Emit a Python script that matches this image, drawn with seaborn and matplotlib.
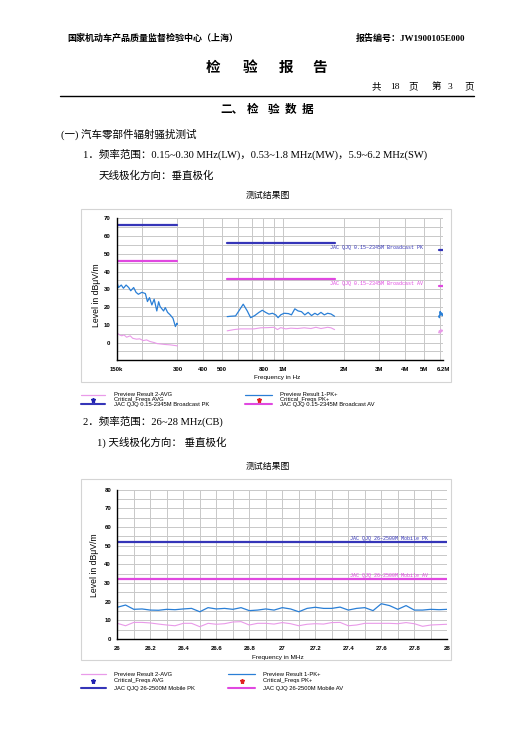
import matplotlib
matplotlib.use("Agg")
import matplotlib.pyplot as plt
import pandas as pd
import seaborn as sns
from matplotlib.patches import Rectangle
from matplotlib.lines import Line2D

# ---------------- data: chart 1 (LW / MW / SW) ----------------
LW_FREQ_KHZ = [150, 153, 158, 162, 167, 172, 176, 182, 187, 192, 200, 208, 213, 218,
               224, 230, 237, 242, 246, 256, 261, 268, 276, 285, 293, 298, 300]
LW_PK = [34.7, 31.0, 32.4, 30.6, 32.4, 31.0, 29.2, 31.0, 28.3, 27.2, 28.3, 27.6, 23.1, 25.3,
         21.2, 24.4, 17.8, 23.0, 20.3, 17.8, 19.7, 17.0, 15.6, 13.7, 9.0, 10.9, 10.3]
LW_AVG_FREQ_KHZ = [150, 155, 159, 163, 168, 175, 180, 188, 195, 203, 211, 219, 230, 238,
                   247, 261, 276, 293, 300]
LW_AVG = [5.6, 4.3, 3.8, 4.3, 3.0, 3.8, 2.4, 1.9, 2.1, 1.1, 1.5, 0.6, 0.0, -0.6,
          -0.8, -1.1, -1.3, -1.7, -1.9]

MW_FREQ_KHZ = [529, 549, 582, 604, 635, 665, 691, 724, 760, 790, 820, 852, 886, 920, 945, 974,
               1012, 1064, 1101, 1144, 1188, 1234, 1282, 1332, 1384, 1438, 1483, 1541, 1601,
               1663, 1728, 1800]
MW_PK = [14.6, 14.8, 15.0, 17.8, 21.6, 17.8, 14.0, 15.2, 17.0, 18.2, 17.0, 16.0, 16.5, 15.6,
         14.0, 15.6, 16.5, 16.3, 15.6, 19.0, 17.8, 17.4, 15.6, 17.0, 15.2, 16.5, 15.6, 17.0,
         15.6, 16.5, 16.1, 14.8]
MW_AVG_FREQ_KHZ = [529, 571, 616, 665, 718, 775, 837, 903, 938, 974, 1032, 1093, 1179, 1273,
                   1374, 1455, 1541, 1663, 1728, 1800]
MW_AVG = [6.6, 7.3, 7.7, 7.7, 7.7, 8.3, 8.4, 8.6, 7.3, 8.4, 7.7, 8.1, 7.9, 8.3, 7.9, 8.6,
          7.9, 8.6, 8.3, 7.3]

SW_FREQ_KHZ = [5900, 5950, 6000, 6050, 6100, 6150, 6200]
SW_PK = [15.0, 14.0, 17.5, 15.5, 16.8, 15.2, 16.2]
SW_AVG = [5.5, 6.8, 5.2, 7.5, 6.0, 7.0, 6.5]

BANDS = ["LW", "MW", "SW"]
BAND_START_KHZ = [150, 530, 5900]
BAND_END_KHZ = [300, 1800, 6200]
BROADCAST_PK_LIMIT = [66, 56, 52]
BROADCAST_AV_LIMIT = [46, 36, 32]

X1_TICKS_HZ = [150e3, 300e3, 400e3, 500e3, 800e3, 1e6, 2e6, 3e6, 4e6, 5e6, 6.2e6]
X1_TICK_LABELS = ["150k", "300", "400", "500", "800", "1M", "2M", "3M", "4M", "5M", "6.2M"]
X1_GRID_HZ = [200e3, 600e3, 700e3, 900e3, 6e6]

# ---------------- data: chart 2 (CB) ----------------
CB_FREQ_MHZ = [26.00, 26.05, 26.10, 26.15, 26.20, 26.25, 26.30, 26.35, 26.40, 26.45,
               26.50, 26.55, 26.60, 26.65, 26.70, 26.75, 26.80, 26.85, 26.90, 26.95,
               27.00, 27.05, 27.10, 27.15, 27.20, 27.25, 27.30, 27.35, 27.40, 27.45,
               27.50, 27.55, 27.60, 27.65, 27.70, 27.75, 27.80, 27.85, 27.90, 27.95, 28.00]
CB_PK = [17.0, 18.2, 15.9, 16.1, 15.5, 15.4, 15.9, 15.7, 16.1, 16.4,
         14.6, 16.8, 16.1, 16.4, 15.9, 16.8, 15.2, 15.5, 16.1, 15.5,
         16.8, 16.1, 14.6, 16.4, 17.0, 16.4, 16.4, 17.1, 15.5, 16.4,
         16.8, 15.2, 18.9, 17.9, 15.9, 17.9, 15.5, 15.5, 15.9, 15.7, 15.9]
CB_AVG = [8.4, 7.1, 8.9, 8.9, 8.6, 8.0, 7.5, 7.1, 8.4, 8.4,
          6.6, 8.4, 7.9, 8.2, 9.1, 9.3, 7.5, 8.4, 8.4, 8.0,
          8.8, 8.2, 7.1, 7.9, 8.2, 8.0, 8.8, 8.9, 7.1, 7.5,
          8.4, 8.4, 8.4, 8.4, 8.2, 8.8, 8.2, 6.8, 7.5, 7.7, 7.9]
CB_RANGE_MHZ = [26.0, 28.0]
MOBILE_PK_LIMIT = 52
MOBILE_AV_LIMIT = 32
X2_TICKS = [26.0, 26.2, 26.4, 26.6, 26.8, 27.0, 27.2, 27.4, 27.6, 27.8, 28.0]
X2_TICK_LABELS = ["26", "26.2", "26.4", "26.6", "26.8", "27", "27.2", "27.4", "27.6", "27.8", "28"]

# ---------------- styling ----------------
C_PK_LIM = "#3535b8"
C_AV_LIM = "#e048e0"
C_PK = "#2a7fd6"
C_AVG = "#e99ae9"
C_GRID = "#c8c8c8"

sns.set_theme(style="white")
plt.rcParams["font.family"] = ["Liberation Serif", "Noto Sans CJK SC", "DejaVu Sans"]
plt.rcParams["text.color"] = "black"

W, H = 527, 744
fig = plt.figure(figsize=(W / 100, H / 100), dpi=100)
fig.patch.set_facecolor("white")


def fx(x):
    return x / W


def fy(y):
    return 1 - y / H


SANS = ["Liberation Sans", "DejaVu Sans"]
CJK = ["Liberation Serif", "Noto Sans CJK SC", "DejaVu Sans"]


def txt(x, y, s, size, ha="left", weight="normal", family=CJK, color="black", rot=0):
    fig.text(fx(x), fy(y), s, fontsize=size, ha=ha, va="center", fontweight=weight,
             family=family, color=color, rotation=rot)


# ---------------- page text ----------------
txt(67, 38, "国家机动车产品质量监督检验中心（上海）", 6.5, weight="bold")
txt(356, 38, "报告编号：JW1900105E000", 6.5, weight="bold")
for ch, x in zip(["检", "验", "报", "告"], [213, 250, 286, 320]):
    txt(x, 68, ch, 10.5, ha="center", weight="bold")
for s, x in zip(["共", "18", "页", "第", "3", "页"], [376, 395, 413, 436, 450, 469]):
    txt(x, 87, s, 6.8, ha="center")
fig.add_artist(Line2D([fx(60), fx(474)], [fy(95.7), fy(95.7)], transform=fig.transFigure,
                      color="black", lw=1.0))
txt(220, 110, "二、", 8.4, weight="bold")
for ch, x in zip(["检", "验", "数", "据"], [252.5, 273.5, 291, 307.5]):
    txt(x, 110, ch, 8.4, ha="center", weight="bold")
txt(61, 134, "(一) 汽车零部件辐射骚扰测试", 7.6)
txt(83, 154.5, "1．频率范围：0.15~0.30 MHz(LW)，0.53~1.8 MHz(MW)，5.9~6.2 MHz(SW)", 7.6)
txt(99, 175.5, "天线极化方向：垂直极化", 7.6)
txt(267.5, 195.5, "测试结果图", 6.4, ha="center")
txt(83, 421.5, "2．频率范围：26~28 MHz(CB)", 7.6)
txt(97, 442.5, "1) 天线极化方向： 垂直极化", 7.6)
txt(267.5, 466.5, "测试结果图", 6.4, ha="center")

# chart frames
for (x0, y0, x1, y1) in [(81, 209, 451, 382), (81, 479, 451, 660)]:
    fig.add_artist(Rectangle((fx(x0), fy(y1)), fx(x1) - fx(x0), fy(y0) - fy(y1),
                             transform=fig.transFigure, fill=False, ec="#d4d4d4", lw=0.8))


def style_axes(ax):
    for side in ["top", "right"]:
        ax.spines[side].set_visible(False)
    for side in ["left", "bottom"]:
        ax.spines[side].set_color("black")
        ax.spines[side].set_linewidth(1.0)
    ax.grid(True, which="both", color=C_GRID, lw=0.7)
    ax.set_axisbelow(True)
    ax.tick_params(which="major", direction="inout", length=4.5, width=1.0, color="black",
                   labelsize=4.3, labelcolor="black")
    ax.tick_params(which="minor", direction="inout", length=3.5, width=0.9, color="black")
    ax.tick_params(axis="x", pad=2.8)
    ax.tick_params(axis="y", pad=2.2)
    for lab in ax.get_xticklabels() + ax.get_yticklabels():
        lab.set_family(SANS)
        lab.set_fontweight("bold")
    ax.set_xlabel("")
    ax.set_ylabel("")


# ---------------- chart 1 ----------------
ax1 = fig.add_axes([fx(116.7), fy(360.3), fx(443) - fx(116.7), fy(218.3) - fy(360.3)])
ax1.set_facecolor("white")

lim_df = pd.DataFrame({
    "band": BANDS * 2,
    "freq": [f * 1e3 for f in BAND_START_KHZ + BAND_END_KHZ],
    "pk": BROADCAST_PK_LIMIT * 2,
    "av": BROADCAST_AV_LIMIT * 2,
})
sns.lineplot(data=lim_df, x="freq", y="pk", units="band", estimator=None, color=C_PK_LIM,
             lw=1.6, ax=ax1, legend=False)
sns.lineplot(data=lim_df, x="freq", y="av", units="band", estimator=None, color=C_AV_LIM,
             lw=1.6, ax=ax1, legend=False)

for fr, vals in [(LW_AVG_FREQ_KHZ, LW_AVG), (MW_AVG_FREQ_KHZ, MW_AVG), (SW_FREQ_KHZ, SW_AVG)]:
    sns.lineplot(x=[f * 1e3 for f in fr], y=vals, color=C_AVG, lw=0.8, ax=ax1,
                 estimator=None, sort=False)
for fr, vals in [(LW_FREQ_KHZ, LW_PK), (MW_FREQ_KHZ, MW_PK), (SW_FREQ_KHZ, SW_PK)]:
    sns.lineplot(x=[f * 1e3 for f in fr], y=vals, color=C_PK, lw=0.9, ax=ax1,
                 estimator=None, sort=False)

ax1.set_xscale("log")
ax1.set_xlim(150e3, 6.2e6)
ax1.set_ylim(-10, 70)
ax1.set_xticks(X1_TICKS_HZ)
ax1.set_xticklabels(X1_TICK_LABELS)
ax1.set_xticks(X1_GRID_HZ, minor=True)
ax1.set_xticklabels([], minor=True)
ax1.set_yticks(list(range(0, 71, 10)))
ax1.set_yticklabels([str(v) for v in range(0, 71, 10)])
ax1.set_yticks(list(range(-5, 70, 10)), minor=True)
style_axes(ax1)
ax1.tick_params(axis="x", which="minor", length=0)

ax1.text(1.71e6, 53.6, "JAC QJQ 0.15~2345M Broadcast PK", fontsize=3.6, color=C_PK_LIM,
         family=["Liberation Mono", "DejaVu Sans Mono"], va="center", ha="left")
ax1.text(1.71e6, 33.5, "JAC QJQ 0.15~2345M Broadcast AV", fontsize=3.6, color=C_AV_LIM,
         family=["Liberation Mono", "DejaVu Sans Mono"], va="center", ha="left")

txt(96.5, 295, "Level in dBμV/m", 6.2, ha="center", family=SANS, rot=90)
txt(277, 378, "Frequency in Hz", 4.6, ha="center", family=SANS)

# ---------------- chart 2 ----------------
ax2 = fig.add_axes([fx(117.3), fy(639), fx(447.3) - fx(117.3), fy(489.7) - fy(639)])
ax2.set_facecolor("white")
sns.lineplot(x=CB_RANGE_MHZ, y=[MOBILE_PK_LIMIT] * 2, color=C_PK_LIM, lw=1.6, ax=ax2,
             estimator=None)
sns.lineplot(x=CB_RANGE_MHZ, y=[MOBILE_AV_LIMIT] * 2, color=C_AV_LIM, lw=1.6, ax=ax2,
             estimator=None)
sns.lineplot(x=CB_FREQ_MHZ, y=CB_AVG, color=C_AVG, lw=0.8, ax=ax2, estimator=None, sort=False)
sns.lineplot(x=CB_FREQ_MHZ, y=CB_PK, color=C_PK, lw=0.9, ax=ax2, estimator=None, sort=False)
ax2.set_xlim(26, 28)
ax2.set_ylim(0, 80)
ax2.set_xticks(X2_TICKS)
ax2.set_xticklabels(X2_TICK_LABELS)
ax2.set_xticks([t + 0.1 for t in X2_TICKS[:-1]], minor=True)
ax2.set_xticklabels([], minor=True)
ax2.set_yticks(list(range(0, 81, 10)))
ax2.set_yticklabels([str(v) for v in range(0, 81, 10)])
ax2.set_yticks(list(range(5, 80, 10)), minor=True)
style_axes(ax2)
ax2.tick_params(axis="x", which="minor", length=2.5)

ax2.text(27.41, 53.7, "JAC QJQ 26~2500M Mobile PK", fontsize=3.6, color=C_PK_LIM,
         family=["Liberation Mono", "DejaVu Sans Mono"], va="center", ha="left")
ax2.text(27.41, 33.8, "JAC QJQ 26~2500M Mobile AV", fontsize=3.6, color=C_AV_LIM,
         family=["Liberation Mono", "DejaVu Sans Mono"], va="center", ha="left")

txt(94.5, 565, "Level in dBμV/m", 6.2, ha="center", family=SANS, rot=90)
txt(278, 657, "Frequency in MHz", 4.6, ha="center", family=SANS)


# ---------------- legends (drawn manually) ----------------
def legend_block(rows_y, left, right, labels_left, labels_right):
    (lx0, lx1, ltx), (rx0, rx1, rtx) = left, right
    kinds_left = [("line", C_AVG, 0.9), ("star", "#2020b0", 0), ("line", C_PK_LIM, 1.5)]
    kinds_right = [("line", C_PK, 0.9), ("star", "#e02020", 0), ("line", C_AV_LIM, 1.5)]
    for (x0, x1, tx, kinds, labels) in [(lx0, lx1, ltx, kinds_left, labels_left),
                                         (rx0, rx1, rtx, kinds_right, labels_right)]:
        for y, (kind, col, lw), lab in zip(rows_y, kinds, labels):
            if kind == "line":
                fig.add_artist(Line2D([fx(x0), fx(x1)], [fy(y), fy(y)],
                                      transform=fig.transFigure, color=col, lw=lw))
            else:
                fig.add_artist(Line2D([fx((x0 + x1) / 2)], [fy(y)], transform=fig.transFigure,
                                      marker="*", ms=3.6, color=col, lw=0))
            txt(tx, y, lab, 4.2, family=SANS)


legend_block([395, 399.7, 404.2], (80.7, 105, 114), (245, 272, 280),
             ["Preview Result 2-AVG", "Critical_Freqs AVG", "JAC QJQ 0.15-2345M Broadcast PK"],
             ["Preview Result 1-PK+", "Critical_Freqs PK+", "JAC QJQ 0.15-2345M Broadcast AV"])
legend_block([674, 680.5, 688.3], (80.7, 106, 114), (228, 255, 263),
             ["Preview Result 2-AVG", "Critical_Freqs AVG", "JAC QJQ 26-2500M Mobile PK"],
             ["Preview Result 1-PK+", "Critical_Freqs PK+", "JAC QJQ 26-2500M Mobile AV"])

fig.savefig("out.png", dpi=100, facecolor="white")
